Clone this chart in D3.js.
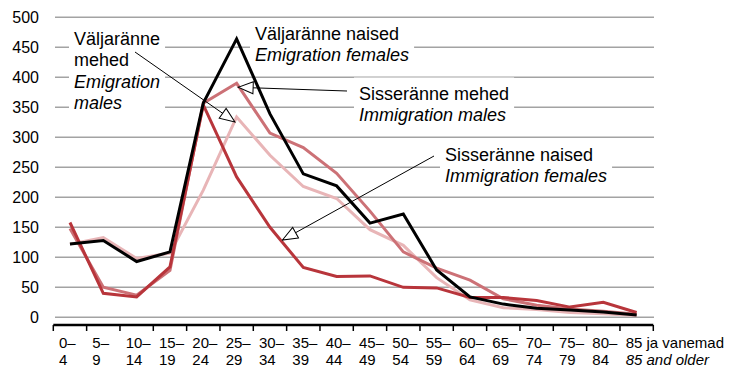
<!DOCTYPE html>
<html>
<head>
<meta charset="utf-8">
<script src="https://cdn.jsdelivr.net/npm/d3@7"></script>
<style>
  body { margin: 0; background: #fff; }
  svg { display: block; }
  text { font-family: "Liberation Sans", Arial, Helvetica, sans-serif; fill: #000; }
</style>
</head>
<body>
<svg id="chart" width="732" height="368"></svg>
<script>
// Age groups (5-year bands)
const categories = ["0–4", "5–9", "10–14", "15–19", "20–24", "25–29", "30–34", "35–39", "40–44",
  "45–49", "50–54", "55–59", "60–64", "65–69", "70–74", "75–79", "80–84", "85+"];
const tickTop = ["0–", "5–", "10–", "15–", "20–", "25–", "30–", "35–", "40–", "45–", "50–",
  "55–", "60–", "65–", "70–", "75–", "80–", "85 ja vanemad"];
const tickBottom = ["4", "9", "14", "19", "24", "29", "34", "39", "44", "49", "54", "59",
  "64", "69", "74", "79", "84", "85 and older"];
const yTickValues = [0, 50, 100, 150, 200, 250, 300, 350, 400, 450, 500];

// Series values by age group
const emigrationFemales = [122, 128, 93, 109, 357, 464, 339, 239, 219, 157, 172, 79, 34, 22, 15, 12, 9, 4];
const emigrationMales = [122, 133, 98, 107, 212, 334, 270, 218, 198, 146, 120, 66, 29, 16, 13, 8, 6, 3];
const immigrationMales = [148, 50, 37, 78, 357, 390, 307, 283, 240, 177, 109, 82, 62, 31, 20, 14, 10, 5];
const immigrationFemales = [158, 40, 34, 84, 354, 234, 150, 83, 68, 69, 50, 49, 33, 33, 28, 17, 25, 8];

const svg = d3.select("#chart");
const x = d3.scaleBand().domain(categories).range([53.3, 653.3]);
const y = d3.scaleLinear().domain([0, 500]).range([317.3, 17.3]);
const xc = c => x(c) + x.bandwidth() / 2;

// Horizontal gridlines
svg.append("g").selectAll("line").data(yTickValues).join("line")
  .attr("x1", 55).attr("x2", 654)
  .attr("y1", d => y(d)).attr("y2", d => y(d))
  .attr("stroke", "#a3a3a3").attr("stroke-width", 1.4);

// Y labels
svg.append("g").selectAll("text").data(yTickValues).join("text")
  .attr("x", 39).attr("y", d => y(d)).attr("dy", "0.36em")
  .attr("text-anchor", "end").attr("font-size", 16)
  .text(d => d);

// Category axis with ticks at band boundaries
const axisY = 325;
const ax = svg.append("g");
ax.append("line").attr("x1", x.range()[0]).attr("x2", x.range()[1])
  .attr("y1", axisY).attr("y2", axisY).attr("stroke", "#000").attr("stroke-width", 2.5);
ax.selectAll("line.tick").data([...categories.map(c => x(c)), x.range()[1]]).join("line")
  .attr("class", "tick")
  .attr("x1", d => d).attr("x2", d => d).attr("y1", axisY).attr("y2", axisY + 6)
  .attr("stroke", "#000").attr("stroke-width", 1.5);
const lab = ax.selectAll("text").data(categories).join("text")
  .attr("font-size", 15);
lab.append("tspan").attr("x", d => xc(d) - 11).attr("y", 347.5).text((d, i) => tickTop[i]);
lab.append("tspan").attr("x", d => xc(d) - 11).attr("y", 365)
  .attr("font-style", (d, i) => i === categories.length - 1 ? "italic" : null)
  .text((d, i) => tickBottom[i]);

// Annotation text blocks (white backing hides gridlines behind them)
const notes = [
  { x: 74, y: 45, lines: [["Väljaränne", false], ["mehed", false], ["Emigration", true], ["males", true]] },
  { x: 255, y: 40, lines: [["Väljaränne naised", false], ["Emigration females", true]] },
  { x: 359, y: 99.5, lines: [["Sisseränne mehed", false], ["Immigration males", true]] },
  { x: 445, y: 160.5, lines: [["Sisseränne naised", false], ["Immigration females", true]] }
];
const lineGap = 21.4;
const boxLayer = svg.append("g");
const seriesLayer = svg.append("g");
const noteLayer = svg.append("g");
notes.forEach(n => {
  const t = noteLayer.append("text").attr("font-size", 18);
  n.lines.forEach((l, i) => {
    t.append("tspan").attr("x", n.x).attr("y", n.y + i * lineGap)
      .attr("font-style", l[1] ? "italic" : null).text(l[0]);
  });
  const b = t.node().getBBox();
  boxLayer.append("rect").attr("x", b.x - 5).attr("y", b.y - 6)
    .attr("width", b.width + 10).attr("height", b.height + 8).attr("fill", "#fff");
});

// Series lines
const line = d3.line().x((d, i) => xc(categories[i])).y(d => y(d));
const series = [
  { values: emigrationMales, color: "#e8b5b7" },
  { values: immigrationMales, color: "#cc7176" },
  { values: immigrationFemales, color: "#b8353b" },
  { values: emigrationFemales, color: "#000000" }
];
seriesLayer.selectAll("path").data(series).join("path")
  .attr("d", d => line(d.values))
  .attr("fill", "none").attr("stroke", d => d.color)
  .attr("stroke-width", 3).attr("stroke-linejoin", "miter");

// Leader arrows with hollow heads
svg.append("defs").append("marker")
  .attr("id", "head").attr("viewBox", "-1 -1 17 14")
  .attr("refX", 15).attr("refY", 6)
  .attr("markerWidth", 17).attr("markerHeight", 14)
  .attr("markerUnits", "userSpaceOnUse").attr("orient", "auto")
  .append("path").attr("d", "M0,0 L15,6 L0,12 Z")
  .attr("fill", "#fff").attr("stroke", "#000").attr("stroke-width", 1);

const i25 = categories.indexOf("25–29");
const i30 = categories.indexOf("30–34");
const i35 = categories.indexOf("35–39");
const frac = 0.39;
const arrows = [
  { from: [135, 52], to: [xc(categories[i25]) - 1.7, y(emigrationMales[i25]) + 5] },
  { from: [347, 91], to: [xc(categories[i25]) + 1.5, y(immigrationMales[i25]) + 4] },
  { from: [434, 156], to: [xc(categories[i30]) + frac * x.step() - 0.5,
    y(immigrationFemales[i30]) + frac * (y(immigrationFemales[i35]) - y(immigrationFemales[i30])) - 3] }
];
noteLayer.selectAll("line").data(arrows).join("line")
  .attr("x1", d => d.from[0]).attr("y1", d => d.from[1])
  .attr("x2", d => d.to[0]).attr("y2", d => d.to[1])
  .attr("stroke", "#000").attr("stroke-width", 1)
  .attr("marker-end", "url(#head)");
</script>
</body>
</html>
